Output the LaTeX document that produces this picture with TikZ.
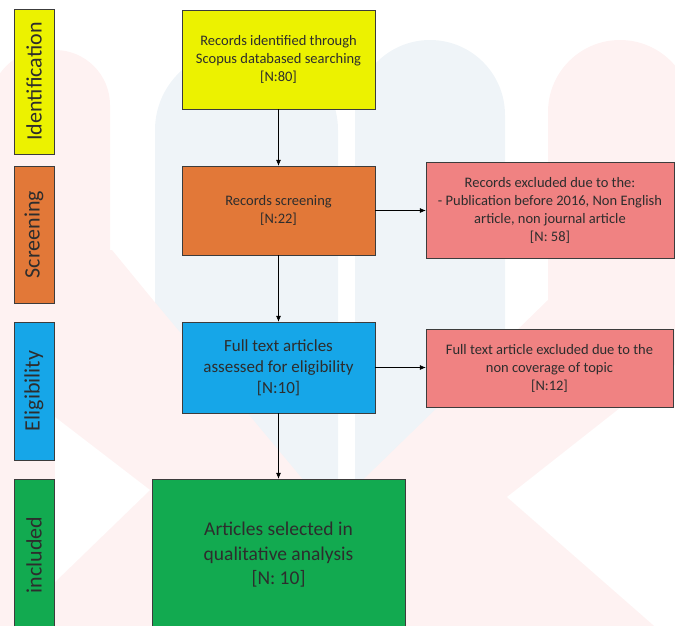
\documentclass[tikz,border=0pt]{standalone}
\usepackage{fontspec}
\setmainfont{Carlito}
\usetikzlibrary{arrows.meta, positioning}

\definecolor{idyellow}{RGB}{236,242,0}
\definecolor{scrorange}{RGB}{226,120,56}
\definecolor{exred}{RGB}{240,130,130}
\definecolor{elblue}{RGB}{22,166,232}
\definecolor{ingreen}{RGB}{18,170,80}
\definecolor{wmblue}{RGB}{239,244,248}
\definecolor{wmred}{RGB}{254,242,242}
\definecolor{txt}{RGB}{45,45,45}
\definecolor{rim}{RGB}{60,60,60}

\begin{document}
\begin{tikzpicture}[
  x=1pt, y=-1pt,
  phase/.style={draw=rim, fill=#1, rotate=90, minimum height=40pt, inner sep=0pt,
    text=txt, font=\fontsize{22}{26}\selectfont},
  box/.style={draw=rim, fill=#1, inner sep=0pt, align=center, text=txt,
    font=\fontsize{14.5}{18}\selectfont},
  edge/.style={-{Latex[length=6pt, width=5pt]}, semithick}
]
\useasboundingbox (0,0) rectangle (675,625);
\clip (0,0) rectangle (675,625);

% faint background watermark
\fill[wmblue, rounded corners=80pt] (155,720) -- (155,50) -- (338,50) -- (338,720) -- cycle;
\fill[wmblue, rounded corners=75pt] (355,720) -- (355,40) -- (505,40) -- (505,720) -- cycle;
\fill[wmred, rounded corners=55pt] (-10,720) -- (-10,50) -- (110,50) -- (110,720) -- cycle;
\fill[wmred, rounded corners=72pt] (548,720) -- (548,40) -- (692,40) -- (692,720) -- cycle;
\fill[wmred] (-10,250) -- (112,250) -- (153,300) -- (330,512) -- (548,300) -- (700,300)
  -- (700,700) -- (-10,700) -- cycle;
\fill[white] (55,417) -- (150,490) -- (55,582) -- cycle;
\fill[white] (507,497) -- (700,345) -- (700,666) -- cycle;

\node[phase=idyellow, minimum width=145pt] (idlab) at (34,81.5) {Identification};
\node[phase=scrorange, minimum width=137pt] (scrlab) at (34,234.5) {Screening};
\node[phase=elblue, minimum width=138pt] (elilab) at (34,391) {Eligibility};
\node[phase=ingreen, minimum width=152pt] (inclab) at (34,555) {included};

\node[box=idyellow, minimum width=193pt, minimum height=99pt] (ident) at (278.5,59.5)
  {Records identified through\\Scopus databased searching\\{[N:80]}};
\node[box=scrorange, minimum width=193pt, minimum height=89pt] (screen) at (278.5,210.5)
  {Records screening\\{[N:22]}};
\node[box=exred, minimum width=248pt, minimum height=96pt] (excl1) at (550,210)
  {Records excluded due to the:\\- Publication before 2016, Non English\\article, non journal article\\{[N: 58]}};
\node[box=elblue, minimum width=193pt, minimum height=91pt, font=\fontsize{17}{21}\selectfont] (elig) at (278.5,367.5)
  {Full text articles\\assessed for eligibility\\{[N:10]}};
\node[box=exred, minimum width=247pt, minimum height=78pt] (excl2) at (549.5,368)
  {Full text article excluded due to the\\non coverage of topic\\{[N:12]}};
\node[box=ingreen, minimum width=253pt, minimum height=152pt, font=\fontsize{19.5}{24.5}\selectfont] (incl) at (278.5,555)
  {Articles selected in\\qualitative analysis\\{[N: 10]}};

\draw[edge] (ident) -- (screen);
\draw[edge] (screen) -- (elig);
\draw[edge] (elig) -- (incl);
\draw[edge] (screen) -- (screen -| excl1.west);
\draw[edge] (elig) -- (elig -| excl2.west);
\end{tikzpicture}
\end{document}
